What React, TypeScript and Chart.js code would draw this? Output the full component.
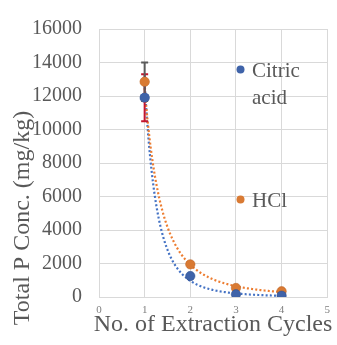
import React, { useEffect, useRef } from 'react';
import { Chart, registerables } from 'chart.js';

Chart.register(...registerables);

const cycles = [1, 2, 3, 4];
const citricAcid = [11900, 1250, 160, 80];
const hcl = [12850, 1950, 540, 340];
const citricErr = [1400, 0, 0, 0];
const hclErr = [1150, 0, 0, 0];
const seriesNames = ['Citric acid', 'HCl'];
const xTitle = 'No. of Extraction Cycles';
const yTitle = 'Total P Conc. (mg/kg)';
const xMin = 0;
const xMax = 5;
const yMin = 0;
const yMax = 16000;
const yStep = 2000;

const BLUE = '#3F63A9';
const BLUE_LINE = '#4472C4';
const ORANGE = '#D97A33';
const ORANGE_LINE = '#ED7D31';
const FONT = "'Liberation Serif', 'Times New Roman', serif";
const TEXT = '#595959';

function fitPower(xs: number[], ys: number[]) {
  const lx = xs.map((v) => Math.log(v));
  const ly = ys.map((v) => Math.log(v));
  const n = xs.length;
  const mx = lx.reduce((a, b) => a + b, 0) / n;
  const my = ly.reduce((a, b) => a + b, 0) / n;
  let sxy = 0;
  let sxx = 0;
  for (let i = 0; i < n; i++) {
    sxy += (lx[i] - mx) * (ly[i] - my);
    sxx += (lx[i] - mx) * (lx[i] - mx);
  }
  const b = sxy / sxx;
  const a = Math.exp(my - b * mx);
  return { a, b };
}

function trend(xs: number[], ys: number[]) {
  const { a, b } = fitPower(xs, ys);
  const pts: { x: number; y: number }[] = [];
  const x0 = xs[0];
  const x1 = xs[xs.length - 1];
  const steps = 200;
  for (let i = 0; i <= steps; i++) {
    const x = x0 + ((x1 - x0) * i) / steps;
    pts.push({ x, y: a * Math.pow(x, b) });
  }
  return pts;
}

const overlayPlugin = {
  id: 'overlay',
  afterDatasetsDraw(chart: any) {
    const ctx = chart.ctx;
    const xs = chart.scales.x;
    const ys = chart.scales.y;
    const drawErr = (vals: number[], errs: number[], color: string) => {
      ctx.save();
      ctx.strokeStyle = color;
      ctx.lineWidth = 2;
      for (let i = 0; i < vals.length; i++) {
        if (!errs[i]) continue;
        const px = xs.getPixelForValue(cycles[i]);
        const top = ys.getPixelForValue(vals[i] + errs[i]);
        const bot = ys.getPixelForValue(vals[i] - errs[i]);
        ctx.beginPath();
        ctx.moveTo(px, top);
        ctx.lineTo(px, bot);
        ctx.moveTo(px - 3.5, top);
        ctx.lineTo(px + 3.5, top);
        ctx.moveTo(px - 3.5, bot);
        ctx.lineTo(px + 3.5, bot);
        ctx.stroke();
      }
      ctx.restore();
    };
    drawErr(citricAcid, citricErr, '#C3162E');
    drawErr(hcl, hclErr, '#5A5A5A');
    const drawPt = (x: number, y: number, fill: string, r: number) => {
      ctx.save();
      ctx.fillStyle = fill;
      ctx.beginPath();
      ctx.arc(x, y, r, 0, Math.PI * 2);
      ctx.fill();
      ctx.restore();
    };
    drawPt(xs.getPixelForValue(cycles[0]), ys.getPixelForValue(hcl[0]), ORANGE, 4.7);
    drawPt(xs.getPixelForValue(cycles[0]), ys.getPixelForValue(citricAcid[0]), BLUE, 4.7);
  },
  afterDraw(chart: any) {
    const ctx = chart.ctx;
    ctx.save();
    ctx.font = `21px ${FONT}`;
    ctx.textBaseline = 'alphabetic';
    ctx.textAlign = 'left';
    const words = seriesNames[0].split(' ');
    ctx.fillStyle = BLUE;
    ctx.beginPath();
    ctx.arc(240.5, 69.5, 4, 0, Math.PI * 2);
    ctx.fill();
    ctx.fillStyle = TEXT;
    ctx.fillText(words[0], 252, 77);
    ctx.fillText(words[1], 252, 104);
    ctx.fillStyle = ORANGE;
    ctx.beginPath();
    ctx.arc(240.5, 199.5, 4, 0, Math.PI * 2);
    ctx.fill();
    ctx.fillStyle = TEXT;
    ctx.fillText(seriesNames[1], 252, 207);
    ctx.font = `24px ${FONT}`;
    ctx.textAlign = 'center';
    ctx.fillText(xTitle, 213, 330.5);
    ctx.translate(29, 218);
    ctx.rotate(-Math.PI / 2);
    ctx.fillText(yTitle, 0, 0);
    ctx.restore();
  },
};

export default function App() {
  const ref = useRef<HTMLCanvasElement>(null);
  useEffect(() => {
    if (!ref.current) return;
    const pts = (ys: number[]) => cycles.map((x, i) => ({ x, y: ys[i] }));
    const chart = new Chart(ref.current, {
      type: 'scatter',
      data: {
        datasets: [
          {
            label: seriesNames[0],
            data: pts(citricAcid),
            backgroundColor: BLUE,
            borderColor: '#2F4F8C',
            borderWidth: 0.5,
            pointRadius: 4.7,
            order: 0,
          },
          {
            label: seriesNames[1],
            data: pts(hcl),
            backgroundColor: ORANGE,
            borderColor: '#B85F20',
            borderWidth: 0.5,
            pointRadius: 4.7,
            order: 0,
          },
          {
            type: 'line',
            label: 'trend citric',
            data: trend(cycles, citricAcid),
            borderColor: BLUE_LINE,
            borderWidth: 2.2,
            borderDash: [2, 2.2],
            pointRadius: 0,
            fill: false,
            tension: 0,
            order: 2,
          } as any,
          {
            type: 'line',
            label: 'trend hcl',
            data: trend(cycles, hcl),
            borderColor: ORANGE_LINE,
            borderWidth: 2.2,
            borderDash: [2, 2.2],
            pointRadius: 0,
            fill: false,
            tension: 0,
            order: 1,
          } as any,
        ],
      },
      options: {
        animation: false,
        responsive: false,
        maintainAspectRatio: false,
        layout: { padding: { top: 18, right: 7, left: 0, bottom: 0 } },
        plugins: { legend: { display: false }, tooltip: { enabled: false } },
        scales: {
          x: {
            type: 'linear',
            min: xMin,
            max: xMax,
            ticks: {
              stepSize: 1,
              color: '#7F7F7F',
              font: { family: FONT, size: 11 },
              padding: 7,
              maxRotation: 0,
              callback: (v: any) => String(v),
            },
            grid: { color: '#D9D9D9', drawTicks: false },
            border: { color: '#D9D9D9' },
            afterFit: (s: any) => {
              s.height = 48;
            },
          },
          y: {
            min: yMin,
            max: yMax,
            ticks: {
              stepSize: yStep,
              color: TEXT,
              font: { family: FONT, size: 20 },
              padding: 17,
              callback: (v: any) => String(v),
            },
            grid: { color: '#D9D9D9', drawTicks: false },
            border: { color: '#D9D9D9' },
            afterFit: (s: any) => {
              s.width = 99;
            },
          },
        },
      },
      plugins: [overlayPlugin],
    });
    return () => chart.destroy();
  }, []);
  return (
    <div style={{ position: 'fixed', left: 0, top: 0, width: 337, height: 345, background: '#fff' }}>
      <canvas ref={ref} width={337} height={345} style={{ width: 337, height: 345 }} />
    </div>
  );
}
